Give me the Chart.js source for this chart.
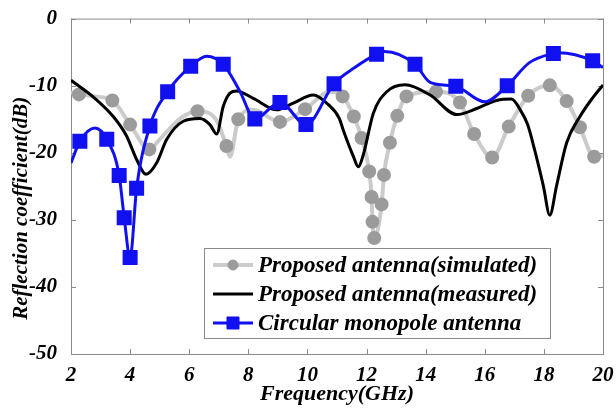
<!DOCTYPE html>
<html>
<head>
<meta charset="utf-8">
<script src="https://cdn.jsdelivr.net/npm/chart.js@4.4.1/dist/chart.umd.min.js"></script>
<style>
body{margin:0;background:#fff}
</style>
</head>
<body>
<canvas id="myChart" width="616" height="408"></canvas>
<script>
// x ticks / y ticks
const xTicks = [2, 4, 6, 8, 10, 12, 14, 16, 18, 20]
const yTicks = [0, -10, -20, -30, -40, -50]

const names = ['Proposed antenna(simulated)', 'Proposed antenna(measured)', 'Circular monopole antenna']
const yTitle = 'Reflection coefficient(dB)'

// simulated (gray, circle markers)
const grayF  = [2.0, 2.27, 2.8, 3.4, 4.0, 4.65, 5.0, 5.69, 6.28, 6.9, 7.26, 7.38, 7.66, 8.16, 9.07, 9.92, 10.76, 11.19, 11.57, 11.83, 12.09, 12.17, 12.2, 12.26, 12.51, 12.59, 12.79, 13.04, 13.35, 14.35, 15.16, 15.64, 16.25, 16.81, 17.47, 18.2, 18.77, 19.22, 19.7, 20.0]
const grayDb = [-11.0, -11.3, -11.6, -12.2, -15.8, -19.5, -18.0, -14.9, -13.8, -15.0, -19.0, -20.6, -15.0, -13.6, -15.4, -13.5, -10.9, -11.6, -14.6, -17.8, -22.8, -26.6, -30.3, -32.7, -27.7, -23.3, -18.5, -14.5, -11.6, -10.9, -12.5, -17.2, -20.7, -16.1, -11.5, -9.95, -12.3, -16.2, -20.6, -20.5]
const grayMarks = [2.27, 3.4, 4.0, 4.65, 6.28, 7.26, 7.66, 9.07, 9.92, 11.19, 11.57, 11.83, 12.09, 12.17, 12.2, 12.26, 12.51, 12.59, 12.79, 13.04, 13.35, 14.35, 15.16, 15.64, 16.25, 16.81, 17.47, 18.2, 18.77, 19.22, 19.7]

// measured (black)
const blackF  = [2.0, 2.76, 3.43, 3.88, 4.22, 4.54, 4.9, 5.24, 5.8, 6.36, 6.7, 6.93, 7.15, 7.38, 7.6, 8.17, 8.96, 9.52, 10.2, 10.7, 11.08, 11.21, 11.55, 11.72, 11.89, 12.23, 12.68, 13.3, 14.15, 15.05, 15.73, 16.4, 16.9, 17.2, 17.45, 17.7, 17.98, 18.2, 18.43, 18.77, 19.22, 19.67, 20.0]
const blackDb = [-9.2, -11.7, -14.6, -17.5, -21.0, -23.2, -21.5, -18.0, -15.3, -14.9, -15.8, -17.2, -13.1, -11.1, -10.8, -11.9, -13.6, -12.6, -11.4, -12.8, -14.9, -16.6, -20.5, -22.1, -20.3, -14.1, -10.9, -9.85, -11.4, -14.3, -13.4, -12.2, -12.0, -13.6, -15.8, -19.8, -24.9, -29.3, -24.9, -18.5, -14.6, -11.7, -9.9]

// circular monopole (blue, square markers)
const blueF  = [2.0, 2.3, 2.81, 3.21, 3.63, 3.8, 4.0, 4.22, 4.67, 5.27, 6.05, 6.59, 7.15, 7.7, 8.22, 9.07, 9.95, 10.9, 11.6, 12.34, 12.6, 13.64, 14.15, 15.02, 16.0, 16.76, 17.5, 18.32, 18.5, 19.65, 20.0]
const blueDb = [-21.5, -18.3, -16.3, -18.0, -23.4, -29.7, -35.6, -25.3, -16.0, -10.9, -7.1, -5.6, -6.8, -10.7, -14.95, -12.5, -15.8, -9.7, -7.3, -5.3, -4.9, -6.8, -9.5, -10.1, -12.4, -10.0, -6.6, -5.2, -5.1, -6.3, -7.3]
const blueMarks = [2.3, 3.21, 3.63, 3.8, 4.0, 4.22, 4.67, 5.27, 6.05, 7.15, 8.22, 9.07, 9.95, 10.9, 12.34, 13.64, 15.02, 16.76, 18.32, 19.65]

const ctx = document.getElementById('myChart')
const fnt = 'Liberation Serif'

function pts(f, d) {
  return f.map((v, i) => ({ x: v, y: d[i] }))
}
function marked(list, r) {
  return c => (c.raw && list.includes(c.raw.x)) ? r : 0
}

// box round the plot, inward ticks, y title
const boxTicks = {
  id: 'boxTicks',
  beforeDatasetsDraw(chart) {
    const c = chart.ctx, a = chart.chartArea, x = chart.scales.x, y = chart.scales.y
    c.save()
    c.strokeStyle = '#8a8a8a'
    c.lineWidth = 1
    c.strokeRect(a.left + 0.5, a.top + 0.5, a.right - a.left, a.bottom - a.top)
    c.beginPath()
    x.ticks.forEach(t => {
      const px = Math.round(x.getPixelForValue(t.value)) + 0.5
      c.moveTo(px, a.bottom); c.lineTo(px, a.bottom - 5)
      c.moveTo(px, a.top); c.lineTo(px, a.top + 5)
    })
    y.ticks.forEach(t => {
      const py = Math.round(y.getPixelForValue(t.value)) + 0.5
      c.moveTo(a.left, py); c.lineTo(a.left + 5, py)
      c.moveTo(a.right, py); c.lineTo(a.right - 5, py)
    })
    c.stroke()

    c.translate(22, (a.top + a.bottom) / 2 + 22)
    c.rotate(-Math.PI / 2)
    c.fillStyle = '#000'
    c.font = 'italic bold 21px ' + fnt
    c.textAlign = 'center'
    c.textBaseline = 'middle'
    c.fillText(yTitle, 0, 0)
    c.restore()
  }
}

const legendBox = {
  id: 'legendBox',
  afterDraw(chart) {
    const c = chart.ctx
    c.save()
    c.fillStyle = '#fff'
    c.fillRect(204, 248, 346, 90)
    c.strokeStyle = '#8a8a8a'
    c.lineWidth = 1
    c.strokeRect(204.5, 248.5, 346, 90)
    names.forEach((n, i) => {
      const ds = chart.data.datasets[i]
      const yy = 265 + i * 29
      c.strokeStyle = ds.borderColor
      c.lineWidth = ds.borderWidth
      c.beginPath(); c.moveTo(213, yy); c.lineTo(253, yy); c.stroke()
      if (ds.legendMark) {
        c.fillStyle = ds.pointBackgroundColor
        c.strokeStyle = ds.pointBorderColor
        c.lineWidth = 1
        Chart.helpers.drawPoint(c, { pointStyle: ds.pointStyle, radius: ds.legendMark, rotation: 0, borderWidth: 1 }, 233, yy)
      }
      c.fillStyle = '#000'
      c.font = 'italic bold 23px ' + fnt
      c.textBaseline = 'middle'
      c.fillText(n, 258, yy + 1)
    })
    c.restore()
  }
}

new Chart(ctx, {
  type: 'line',
  data: {
    datasets: [{
      label: names[0],
      data: pts(grayF, grayDb),
      borderColor: '#cbcbcb',
      borderWidth: 4,
      pointStyle: 'circle',
      pointRadius: marked(grayMarks, 5),
      pointBackgroundColor: '#9b9b9b',
      pointBorderColor: '#9b9b9b',
      legendMark: 5,
      cubicInterpolationMode: 'monotone',
      order: 2
    }, {
      label: names[1],
      data: pts(blackF, blackDb),
      borderColor: '#000',
      borderWidth: 3,
      pointRadius: 0,
      cubicInterpolationMode: 'monotone',
      order: 1
    }, {
      label: names[2],
      data: pts(blueF, blueDb),
      borderColor: '#1010f0',
      borderWidth: 3,
      pointStyle: 'rect',
      pointRadius: marked(blueMarks, 8.5),
      pointBackgroundColor: '#1010f0',
      pointBorderColor: '#1010f0',
      legendMark: 8.5,
      cubicInterpolationMode: 'monotone',
      order: 0
    }]
  },
  options: {
    responsive: false,
    animation: false,
    layout: { padding: { top: 14, right: 13, left: 0, bottom: 0 } },
    plugins: { legend: { display: false }, tooltip: { enabled: false } },
    scales: {
      x: {
        type: 'linear',
        min: 2, max: 20,
        afterFit: s => { s.height = 54 },
        afterBuildTicks: s => { s.ticks = xTicks.map(v => ({ value: v })) },
        grid: { display: false },
        border: { display: false },
        ticks: { color: '#000', padding: 1, maxRotation: 0, font: { family: fnt, size: 21, style: 'italic', weight: 'bold' } },
        title: { display: true, text: 'Frequency(GHz)', color: '#000', padding: { top: 0, bottom: 0 }, font: { family: fnt, size: 22, style: 'italic', weight: 'bold' } }
      },
      y: {
        min: -50, max: 0,
        afterFit: s => { s.width = 71 },
        afterBuildTicks: s => { s.ticks = yTicks.map(v => ({ value: v })) },
        grid: { display: false },
        border: { display: false },
        ticks: { color: '#000', padding: 6, font: { family: fnt, size: 21, style: 'italic', weight: 'bold' } }
      }
    }
  },
  plugins: [boxTicks, legendBox]
})
</script>
</body>
</html>
